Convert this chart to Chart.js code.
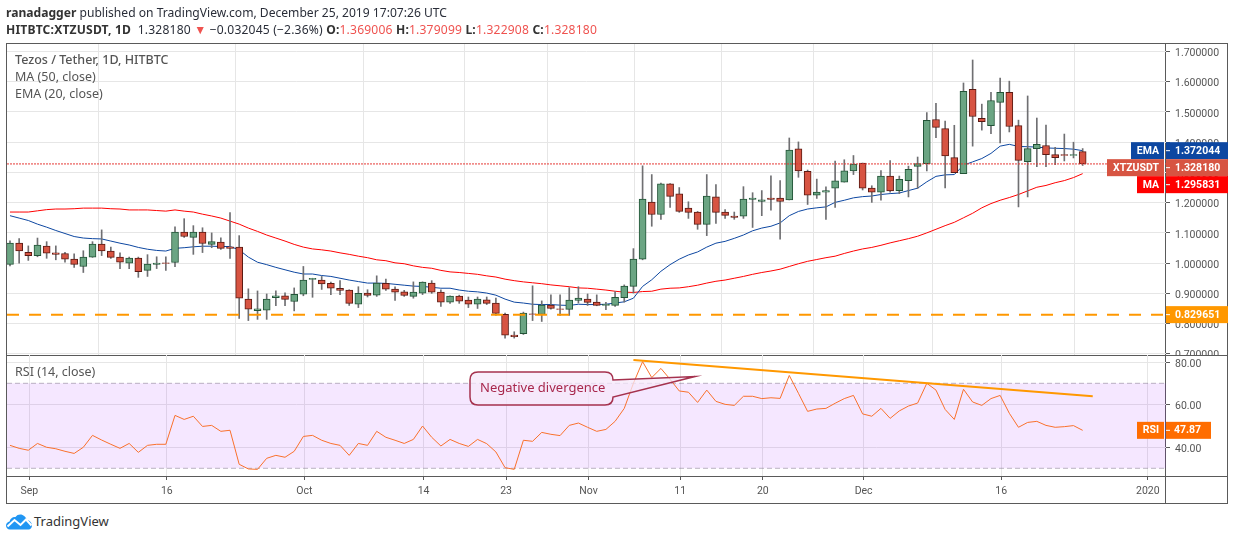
<!DOCTYPE html>
<html>
<head>
<meta charset="utf-8">
<title>XTZUSDT</title>
<script src="https://cdn.jsdelivr.net/npm/chart.js@4/dist/chart.umd.min.js"></script>
<style>
  html, body { margin: 0; padding: 0; background: #fff; }
  body { width: 1234px; height: 540px; position: relative; overflow: hidden; font-family: "Noto Sans", sans-serif; }
  canvas { position: absolute; left: 0; }
  #priceChart { top: 0; }
  #rsiChart { top: 355px; }
  .line { position: absolute; background: #5a5a5a; }
  .txt { position: absolute; white-space: nowrap; color: #555; font-size: 12.5px; line-height: 16px; }
  .head { color: #2a2e39; font-size: 12.1px; line-height: 17px; left: 6px; }
  .head b { color: #333; }
  .red { color: #ef5350; }
</style>
</head>
<body>
<div class="line" style="left:6px;top:43px;width:1222px;height:1px"></div>
<div class="line" style="left:6px;top:355px;width:1222px;height:1px"></div>
<div class="line" style="left:6px;top:476px;width:1222px;height:1px"></div>
<div class="line" style="left:6px;top:503px;width:1222px;height:1px"></div>
<div class="line" style="left:6px;top:43px;width:1px;height:461px"></div>
<div class="line" style="left:1165px;top:43px;width:1px;height:461px"></div>
<div class="line" style="left:1227px;top:43px;width:1px;height:461px"></div>

<canvas id="priceChart" width="1234" height="355"></canvas>
<canvas id="rsiChart" width="1234" height="150"></canvas>

<div class="txt head" style="top:4px"><b>ranadagger</b> published on TradingView.com, December 25, 2019 17:07:26 UTC</div>
<div class="txt head" style="top:21px;letter-spacing:.18px"><b>HITBTC:XTZUSDT, 1D</b>&nbsp; 1.328180 <span class="red">▼</span> −0.032045 (−2.36%) <b>O:</b><span class="red">1.369006</span> <b>H:</b><span class="red">1.379099</span> <b>L:</b><span class="red">1.322908</span> <b>C:</b><span class="red">1.328180</span></div>
<div class="txt" style="left:15px;top:52px;font-weight:500">Tezos / Tether, 1D, HITBTC</div>
<div class="txt" style="left:15px;top:69px">MA (50, close)</div>
<div class="txt" style="left:15px;top:86px">EMA (20, close)</div>
<div class="txt" style="left:15px;top:364px">RSI (14, close)</div>

<svg style="position:absolute;left:6px;top:514px" width="27" height="16" viewBox="0 0 27 16">
  <path d="M4 15.5C1.5 15.5 0 13.5 0 11.5C0 9.5 1.5 8 3.5 7.5C4.5 4 7 2.5 9.5 3C11 .8 14 0 16.5 1C19 2 20.5 4 20.5 6C23.5 6 26 8.5 26 11.5C26 13.5 24.5 15.5 22.5 15.5Z" fill="#2196f3"/>
  <path d="M1.5 12.5L8.5 6L14.5 11L20 5.5L25.5 11.5" fill="none" stroke="#fff" stroke-width="2"/>
</svg>
<div class="txt" style="left:34px;top:513px;color:#333;font-size:13px">TradingView</div>

<script>
// candles from Aug 30 to Dec 25, first one is day -2 counted from Sep 1
const firstDay = -2;

const opens = [
  0.996,1.066,1.036,1.025,1.056,1.034,1.032,1.013,0.989,1.020,1.063,1.040,1.020,1.000,1.017,0.976,0.996,1.001,1.002,1.103,1.085,1.103,1.062,1.070,1.054,1.053,0.881,0.843,0.844,0.886,0.892,0.873,
  0.897,0.946,0.944,0.933,0.917,0.911,0.864,0.901,0.894,0.933,0.914,0.905,0.890,0.901,0.934,0.904,0.871,0.891,0.878,0.864,0.879,0.868,0.831,0.762,0.767,0.832,0.830,0.861,0.849,0.847,0.877,0.881,0.871,
  0.860,0.860,0.886,0.923,1.013,1.202,1.161,1.262,1.229,1.182,1.169,1.128,1.219,1.169,1.156,1.155,1.211,1.204,1.215,1.215,1.209,1.378,1.304,1.225,1.235,1.248,1.268,1.305,1.331,1.248,1.235,1.288,1.240,
  1.273,1.320,1.329,1.475,1.445,1.349,1.296,1.575,1.479,1.455,1.532,1.565,1.455,1.336,1.379,1.389,1.359,1.359,1.356,1.369
];
const highs = [
  1.074,1.081,1.057,1.083,1.071,1.057,1.036,1.031,1.041,1.071,1.110,1.053,1.034,1.020,1.020,1.028,1.021,1.021,1.120,1.147,1.124,1.117,1.100,1.084,1.167,1.091,0.915,0.908,0.898,0.908,0.902,0.918,
  0.989,0.950,0.956,0.937,0.942,0.912,0.922,0.912,0.958,0.947,0.922,0.910,0.938,0.938,0.942,0.912,0.892,0.894,0.888,0.888,0.888,0.884,0.835,0.773,0.838,0.925,0.875,0.895,0.895,0.919,0.922,0.898,0.895,
  0.870,0.906,0.928,1.048,1.322,1.293,1.265,1.263,1.250,1.203,1.171,1.293,1.260,1.177,1.169,1.253,1.233,1.240,1.289,1.273,1.414,1.401,1.308,1.278,1.252,1.338,1.342,1.356,1.331,1.256,1.306,1.339,1.288,
  1.321,1.351,1.498,1.529,1.470,1.456,1.596,1.672,1.526,1.565,1.612,1.602,1.473,1.553,1.480,1.457,1.383,1.427,1.400,1.379
];
const lows = [
  0.991,1.000,1.009,1.021,1.016,1.011,1.003,0.986,0.969,1.019,1.025,1.016,0.982,0.982,0.953,0.956,0.982,0.976,0.988,1.085,1.029,1.035,1.051,1.045,1.016,0.817,0.810,0.814,0.814,0.859,0.859,0.842,
  0.892,0.887,0.913,0.896,0.896,0.860,0.853,0.888,0.890,0.910,0.877,0.890,0.884,0.896,0.900,0.857,0.867,0.867,0.853,0.850,0.863,0.827,0.752,0.752,0.764,0.810,0.807,0.848,0.827,0.827,0.868,0.860,0.859,
  0.846,0.857,0.871,0.901,1.011,1.122,1.145,1.184,1.168,1.148,1.112,1.091,1.131,1.148,1.145,1.148,1.118,1.157,1.175,1.079,1.209,1.284,1.194,1.214,1.145,1.184,1.268,1.293,1.242,1.201,1.208,1.235,1.230,
  1.219,1.247,1.305,1.415,1.249,1.299,1.296,1.387,1.440,1.428,1.398,1.434,1.186,1.219,1.319,1.319,1.326,1.338,1.348,1.323
];
const closes = [
  1.066,1.040,1.025,1.060,1.033,1.029,1.013,0.996,1.020,1.063,1.040,1.019,1.003,1.017,0.972,0.997,1.000,0.999,1.103,1.088,1.103,1.065,1.071,1.049,1.049,0.884,0.848,0.849,0.881,0.892,0.880,0.897,
  0.944,0.950,0.931,0.917,0.910,0.867,0.900,0.893,0.934,0.914,0.904,0.893,0.904,0.937,0.904,0.871,0.891,0.874,0.864,0.881,0.867,0.834,0.762,0.757,0.835,0.830,0.861,0.850,0.847,0.878,0.884,0.870,0.860,
  0.864,0.887,0.924,1.013,1.212,1.161,1.262,1.221,1.171,1.168,1.128,1.222,1.168,1.158,1.151,1.212,1.215,1.209,1.211,1.204,1.374,1.305,1.225,1.235,1.240,1.272,1.305,1.328,1.248,1.235,1.288,1.239,1.277,
  1.310,1.329,1.472,1.449,1.355,1.299,1.568,1.485,1.468,1.538,1.565,1.452,1.340,1.379,1.393,1.359,1.349,1.356,1.359,1.328
];
const ema20 = [
  1.157,1.149,1.141,1.129,1.119,1.108,1.098,1.088,1.083,1.081,1.080,1.073,1.066,1.060,1.052,1.046,1.042,1.040,1.049,1.051,1.054,1.056,1.056,1.055,1.055,1.044,1.020,1.003,0.995,0.986,0.978,0.970,
  0.964,0.964,0.959,0.956,0.950,0.944,0.939,0.934,0.934,0.933,0.930,0.927,0.924,0.923,0.920,0.917,0.917,0.911,0.907,0.905,0.901,0.894,0.881,0.871,0.868,0.864,0.863,0.863,0.861,0.860,0.864,0.863,0.863,
  0.864,0.868,0.872,0.884,0.923,0.945,0.973,0.995,1.013,1.027,1.037,1.053,1.066,1.072,1.082,1.093,1.107,1.116,1.122,1.133,1.157,1.171,1.179,1.183,1.186,1.201,1.208,1.216,1.220,1.222,1.227,1.230,1.232,
  1.240,1.248,1.269,1.287,1.292,1.293,1.324,1.335,1.346,1.363,1.387,1.393,1.386,1.385,1.384,1.381,1.380,1.379,1.377,1.372
];
const ma50 = [
  1.169,1.169,1.169,1.173,1.177,1.179,1.179,1.180,1.182,1.182,1.182,1.180,1.179,1.176,1.176,1.176,1.174,1.172,1.176,1.172,1.169,1.162,1.156,1.149,1.139,1.129,1.116,1.105,1.093,1.083,1.073,1.062,
  1.053,1.047,1.044,1.040,1.034,1.029,1.023,1.018,1.011,1.008,1.001,0.998,0.991,0.986,0.983,0.976,0.971,0.969,0.966,0.963,0.958,0.954,0.947,0.942,0.938,0.935,0.932,0.928,0.925,0.922,0.918,0.917,0.914,
  0.911,0.907,0.904,0.903,0.906,0.907,0.914,0.917,0.918,0.922,0.927,0.934,0.940,0.944,0.950,0.956,0.963,0.969,0.974,0.980,0.989,0.998,1.006,1.012,1.018,1.023,1.032,1.040,1.047,1.052,1.059,1.067,1.074,
  1.081,1.089,1.100,1.112,1.124,1.135,1.150,1.165,1.183,1.197,1.208,1.217,1.227,1.239,1.251,1.257,1.266,1.273,1.283,1.296
];
const rsi14 = [
  40.8,39.4,38.5,41.7,39.9,39.2,38.0,37.0,39.9,45.5,43.3,41.3,39.4,41.7,37.5,40.8,41.3,41.3,54.9,53.0,54.5,49.7,50.2,47.4,47.9,31.9,29.7,29.5,34.7,36.1,35.2,38.0,
  45.0,45.5,43.2,41.7,40.8,36.1,41.7,40.8,47.4,44.6,43.2,41.7,43.6,
  49.9,44.6,40.5,43.6,41.7,40.3,43.6,41.6,37.7,30.3,29.5,43.2,42.7,46.9,46.0,45.4,50.2,51.3,49.3,47.4,48.3,52.1,58.2,70.0,80.2,72.7,77.0,71.9,66.4,65.8,61.0,66.8,61.5,60.1,59.6,63.9,63.9,62.8,63.2,62.9,73.7,65.3,56.8,57.9,
  58.2,60.6,62.8,64.3,55.6,54.5,58.2,53.5,57.0,59.3,60.7,70.0,66.8,57.7,53.0,67.2,61.2,59.6,62.8,64.3,55.9,49.3,51.6,52.1,50.2,49.3,49.6,50.1,47.87
];

const tickDays = [0, 15, 30, 43, 52, 61, 71, 80, 91, 106, 122];
const tickLabels = ['Sep', '16', 'Oct', '14', '23', 'Nov', '11', '20', 'Dec', '16', '2020'];
const priceTicks = [0.7, 0.8, 0.9, 1.0, 1.1, 1.2, 1.3, 1.4, 1.5, 1.6, 1.7];
const rsiTicks = [40, 60, 80];

const lastClose = 1.32818;
const lastEma = 1.372044;
const lastMa = 1.295831;
const supportLevel = 0.829651;
const lastRsi = 47.87;
const rsiBand = [30, 70];
const trendDays = [66, 116.1];
const trendRsi = [81, 63.9];

const days = closes.map((c, i) => i + firstDay);
const dayMin = -2.325, dayMax = 124.09;
const upColor = '#6ba583', downColor = '#d75442';
const upBorder = '#225437', downBorder = '#5b1a13';
const textColor = '#555';
const gridColor = '#e6e6e6';
const tickFont = { family: 'Roboto', size: 10.5 };

function toLine(ys) {
  return ys.map((y, i) => ({ x: days[i], y: y }));
}
function hLine(y) {
  return [{ x: dayMin, y: y }, { x: dayMax, y: y }];
}

function xScale(showLabels) {
  return {
    type: 'linear',
    min: dayMin,
    max: dayMax,
    offset: false,
    border: { display: false },
    grid: { color: gridColor, tickColor: '#5a5a5a', tickLength: 4, drawTicks: showLabels },
    ticks: {
      display: showLabels,
      color: textColor,
      font: tickFont,
      padding: 5,
      autoSkip: false,
      maxRotation: 0,
      callback: (v, i) => tickLabels[i]
    },
    // candles sit about a pixel left of the grid lines in the original
    afterBuildTicks: s => { s.ticks = tickDays.map(d => ({ value: d + 0.11 })); },
    afterFit: s => {
      s.height = showLabels ? 29 : 0;
      s.paddingLeft = 0;
      s.paddingRight = 0;
    }
  };
}

function yScale(min, max, ticks, digits) {
  return {
    position: 'right',
    min: min,
    max: max,
    border: { display: false },
    grid: { color: gridColor, tickColor: '#5a5a5a', tickLength: 4 },
    ticks: { color: textColor, font: tickFont, padding: 5, labelOffset: 2, callback: v => v.toFixed(digits) },
    afterBuildTicks: s => { s.ticks = ticks.map(t => ({ value: t })); },
    // no room kept for half labels, the plot has to fill its pane
    afterFit: s => {
      s.width = 62;
      s.paddingTop = 0;
      s.paddingBottom = 0;
    }
  };
}

function drawTag(ctx, y, left, title, value, color) {
  const h = 17;
  ctx.save();
  ctx.fillStyle = color;
  ctx.fillRect(1166, y - h / 2, 62, h);
  if (title) ctx.fillRect(left, y - h / 2, 1164 - left, h);
  ctx.fillStyle = '#fff';
  ctx.fillRect(1166, y - 0.5, 4, 1);
  ctx.font = 'bold 10.5px Roboto';
  ctx.textBaseline = 'middle';
  ctx.textAlign = 'left';
  ctx.fillText(value, 1175, y + 0.5);
  if (title) {
    ctx.textAlign = 'right';
    ctx.fillText(title, 1159, y + 0.5);
  }
  ctx.restore();
}

const priceTags = {
  id: 'priceTags',
  afterDraw(chart) {
    const ctx = chart.ctx, y = chart.scales.y;
    const emaY = y.getPixelForValue(lastEma);
    drawTag(ctx, emaY, 1131, 'EMA', lastEma.toFixed(6), '#0d47a1');
    drawTag(ctx, emaY + 17, 1107, 'XTZUSDT', lastClose.toFixed(6), downColor);
    drawTag(ctx, emaY + 34, 1137, 'MA', lastMa.toFixed(6), '#ff0000');
    drawTag(ctx, y.getPixelForValue(supportLevel), 0, '', supportLevel.toFixed(6), '#ff9800');
  }
};

const rsiExtras = {
  id: 'rsiExtras',
  afterDraw(chart) {
    const ctx = chart.ctx;
    // callout box with its tail, pixels inside this canvas
    const l = 470, r = 613, t = 17, b = 50, rad = 8;
    ctx.save();
    ctx.beginPath();
    ctx.moveTo(l + rad, t);
    ctx.lineTo(r - rad, t);
    ctx.quadraticCurveTo(r, t, r, t + rad);
    ctx.lineTo(695, 21.5);
    ctx.lineTo(r, 42);
    ctx.quadraticCurveTo(r, b, r - rad, b);
    ctx.lineTo(l + rad, b);
    ctx.quadraticCurveTo(l, b, l, b - rad);
    ctx.lineTo(l, t + rad);
    ctx.quadraticCurveTo(l, t, l + rad, t);
    ctx.closePath();
    ctx.fillStyle = 'rgba(246,232,250,0.75)';
    ctx.strokeStyle = '#a5324e';
    ctx.lineWidth = 1.5;
    ctx.fill();
    ctx.stroke();
    ctx.fillStyle = '#a8284c';
    ctx.font = '13px "Noto Sans"';
    ctx.textBaseline = 'middle';
    ctx.fillText('Negative divergence', 480, 33);
    ctx.restore();

    const y = chart.scales.y.getPixelForValue(lastRsi);
    ctx.save();
    ctx.fillStyle = '#ff6d00';
    ctx.fillRect(1166, y - 8.5, 45, 17);
    ctx.fillRect(1137, y - 8.5, 27, 17);
    ctx.fillStyle = '#fff';
    ctx.fillRect(1166, y - 0.5, 4, 1);
    ctx.font = 'bold 10.5px Roboto';
    ctx.textBaseline = 'middle';
    ctx.fillText(lastRsi.toFixed(2), 1174, y + 0.5);
    ctx.textAlign = 'right';
    ctx.fillText('RSI', 1159, y + 0.5);
    ctx.restore();
  }
};

new Chart(document.getElementById('priceChart'), {
  type: 'bar',
  data: {
    datasets: [
      { type: 'line', data: toLine(ema20), borderColor: '#0d47a1', borderWidth: 1, pointRadius: 0, order: 6 },
      { type: 'line', data: toLine(ma50), borderColor: '#ff0000', borderWidth: 1, pointRadius: 0, order: 6 },
      {
        data: days.map((d, i) => ({ x: d, y: [lows[i], highs[i]] })),
        grouped: false, barThickness: 1, backgroundColor: '#6f6f72', borderWidth: 0, order: 5
      },
      {
        data: days.map((d, i) => ({ x: d, y: [opens[i], closes[i]] })),
        grouped: false, barThickness: 7, borderWidth: 1, borderSkipped: false,
        backgroundColor: closes.map((c, i) => c >= opens[i] ? upColor : downColor),
        borderColor: closes.map((c, i) => c >= opens[i] ? upBorder : downBorder),
        order: 4
      },
      { type: 'line', data: hLine(supportLevel), borderColor: '#ff9800', borderWidth: 2, borderDash: [12, 10], pointRadius: 0, order: 3 },
      { type: 'line', data: hLine(lastClose), borderColor: '#e53935', borderWidth: 1, borderDash: [2, 1], pointRadius: 0, order: 2 }
    ]
  },
  options: {
    responsive: false,
    animation: false,
    layout: { padding: { left: 7, right: 6, top: 44, bottom: 0 } },
    plugins: { legend: { display: false }, tooltip: { enabled: false } },
    scales: {
      x: xScale(false),
      y: yScale(0.6961, 1.7249, priceTicks, 6)
    }
  },
  plugins: [priceTags]
});

new Chart(document.getElementById('rsiChart'), {
  type: 'line',
  data: {
    datasets: [
      {
        data: hLine(rsiBand[1]), borderColor: 'rgba(120,110,134,0.5)', borderWidth: 1, borderDash: [5, 3], pointRadius: 0,
        fill: { target: { value: rsiBand[0] } }, backgroundColor: 'rgba(153,21,255,0.1)', order: 5
      },
      { data: hLine(rsiBand[0]), borderColor: 'rgba(120,110,134,0.5)', borderWidth: 1, borderDash: [5, 3], pointRadius: 0, order: 4 },
      { data: toLine(rsi14), borderColor: '#f9712c', borderWidth: 1, pointRadius: 0, order: 3 },
      {
        data: trendDays.map((d, i) => ({ x: d, y: trendRsi[i] })),
        borderColor: '#ff9800', borderWidth: 2, pointRadius: 0, order: 2
      }
    ]
  },
  options: {
    responsive: false,
    animation: false,
    layout: { padding: { left: 7, right: 6, top: 0, bottom: 0 } },
    plugins: { legend: { display: false }, tooltip: { enabled: false } },
    scales: {
      x: xScale(true),
      y: yScale(26.38, 83.32, rsiTicks, 2)
    }
  },
  plugins: [rsiExtras]
});
</script>
</body>
</html>
